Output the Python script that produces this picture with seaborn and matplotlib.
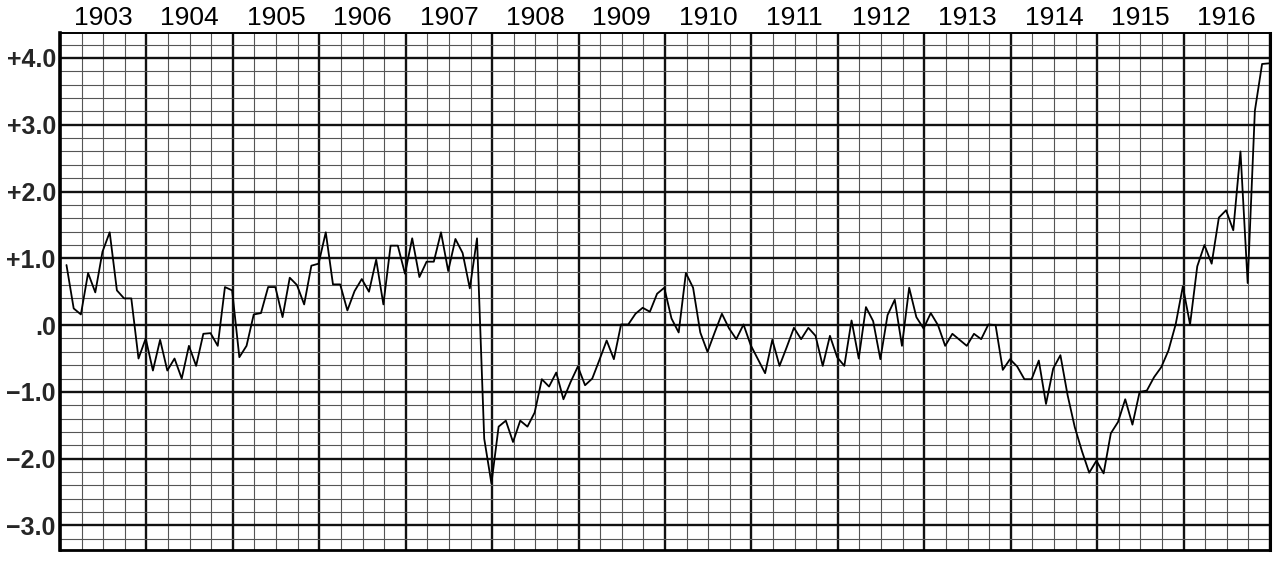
import numpy as np
import pandas as pd
import matplotlib
matplotlib.use("Agg")
import matplotlib.pyplot as plt
import matplotlib.transforms as mtransforms
import seaborn as sns

# ---- data (monthly values, Jan 1903 - Dec 1916) ----
years = list(range(1903, 1917))
year_labels = [str(y) for y in years]

v1903 = [0.90, 0.25, 0.16, 0.78, 0.49, 1.10, 1.39, 0.52, 0.40, 0.40, -0.50, -0.20]
v1904 = [-0.68, -0.22, -0.68, -0.50, -0.80, -0.31, -0.61, -0.13, -0.12, -0.31, 0.57, 0.52]
v1905 = [-0.48, -0.31, 0.16, 0.18, 0.57, 0.57, 0.12, 0.71, 0.60, 0.31, 0.89, 0.92]
v1906 = [1.39, 0.61, 0.61, 0.22, 0.51, 0.69, 0.50, 0.98, 0.31, 1.19, 1.19, 0.77]
v1907 = [1.30, 0.72, 0.95, 0.95, 1.39, 0.81, 1.29, 1.08, 0.55, 1.30, -1.70, -2.37]
v1908 = [-1.52, -1.43, -1.75, -1.43, -1.52, -1.31, -0.81, -0.92, -0.71, -1.11, -0.85, -0.62]
v1909 = [-0.90, -0.80, -0.52, -0.23, -0.51, 0.01, 0.01, 0.17, 0.26, 0.20, 0.47, 0.56]
v1910 = [0.10, -0.11, 0.78, 0.56, -0.11, -0.40, -0.11, 0.17, -0.05, -0.21, 0.01, -0.30]
v1911 = [-0.51, -0.72, -0.22, -0.61, -0.33, -0.04, -0.21, -0.04, -0.16, -0.61, -0.16, -0.48]
v1912 = [-0.61, 0.07, -0.50, 0.27, 0.06, -0.51, 0.15, 0.38, -0.31, 0.56, 0.12, -0.05]
v1913 = [0.18, 0.00, -0.31, -0.13, -0.22, -0.31, -0.13, -0.21, 0.01, 0.00, -0.67, -0.51]
v1914 = [-0.62, -0.81, -0.81, -0.53, -1.18, -0.65, -0.45, -1.05, -1.53, -1.89, -2.21, -2.03]
v1915 = [-2.22, -1.62, -1.45, -1.11, -1.49, -1.00, -0.98, -0.78, -0.63, -0.38, 0.01, 0.58]
v1916 = [0.01, 0.88, 1.20, 0.92, 1.61, 1.72, 1.42, 2.60, 0.63, 3.21, 3.91, 3.92]

y_ticks = [4, 3, 2, 1, 0, -1, -2, -3]
y_tick_labels = ["+4.0", "+3.0", "+2.0", "+1.0", ".0", "\u22121.0", "\u22122.0", "\u22123.0"]

values = (v1903 + v1904 + v1905 + v1906 + v1907 + v1908 + v1909 +
          v1910 + v1911 + v1912 + v1913 + v1914 + v1915 + v1916)
month_idx = np.arange(len(values))
df = pd.DataFrame({"t": years[0] + (month_idx + 0.9) / 12.0, "v": values})

# ---- figure ----
sns.set_style("white")
plt.rcParams["font.family"] = ["Liberation Sans", "DejaVu Sans"]

fig = plt.figure(figsize=(12.78, 5.62), dpi=100)
ax = fig.add_axes([60 / 1278, 1 - 550 / 562, 1210 / 1278, 517 / 562])

ax.set_xlim(1903, 1917)
ax.set_ylim(-3.367, 4.374)

# grid: minor (quarters / 0.2) and major (years / 1.0)
ax.set_xticks(years + [1917])
ax.set_xticks(np.arange(1903, 1917.01, 0.25), minor=True)
ax.set_yticks(y_ticks)
ax.set_yticks(np.arange(-3.2, 4.31, 0.2), minor=True)
ax.grid(which="minor", color="#555555", linewidth=0.8)
ax.grid(which="major", color="#111111", linewidth=1.7)
ax.set_axisbelow(True)

sns.lineplot(data=df, x="t", y="v", ax=ax, color="black", linewidth=1.3,
             estimator=None, sort=False, zorder=5)

ax.set_xlabel("")
ax.set_ylabel("")
ax.set_xticklabels([])
ax.tick_params(axis="x", which="both", length=0)
ax.tick_params(axis="y", which="both", length=0, pad=3)
ax.set_yticklabels(y_tick_labels, fontsize=18, fontweight="bold")

for side, lw in [("left", 2.6), ("right", 2.2), ("top", 1.4), ("bottom", 2.0)]:
    ax.spines[side].set_visible(True)
    ax.spines[side].set_color("black")
    ax.spines[side].set_linewidth(lw)

# year labels above each year cell
trans = mtransforms.blended_transform_factory(ax.transData, ax.transAxes)
for yr, lab in zip(years, year_labels):
    ax.text(yr + 0.5, 1.005, lab, transform=trans, ha="center", va="bottom",
            fontsize=19, color="black")

fig.savefig("out.png", dpi=100, facecolor="white")
